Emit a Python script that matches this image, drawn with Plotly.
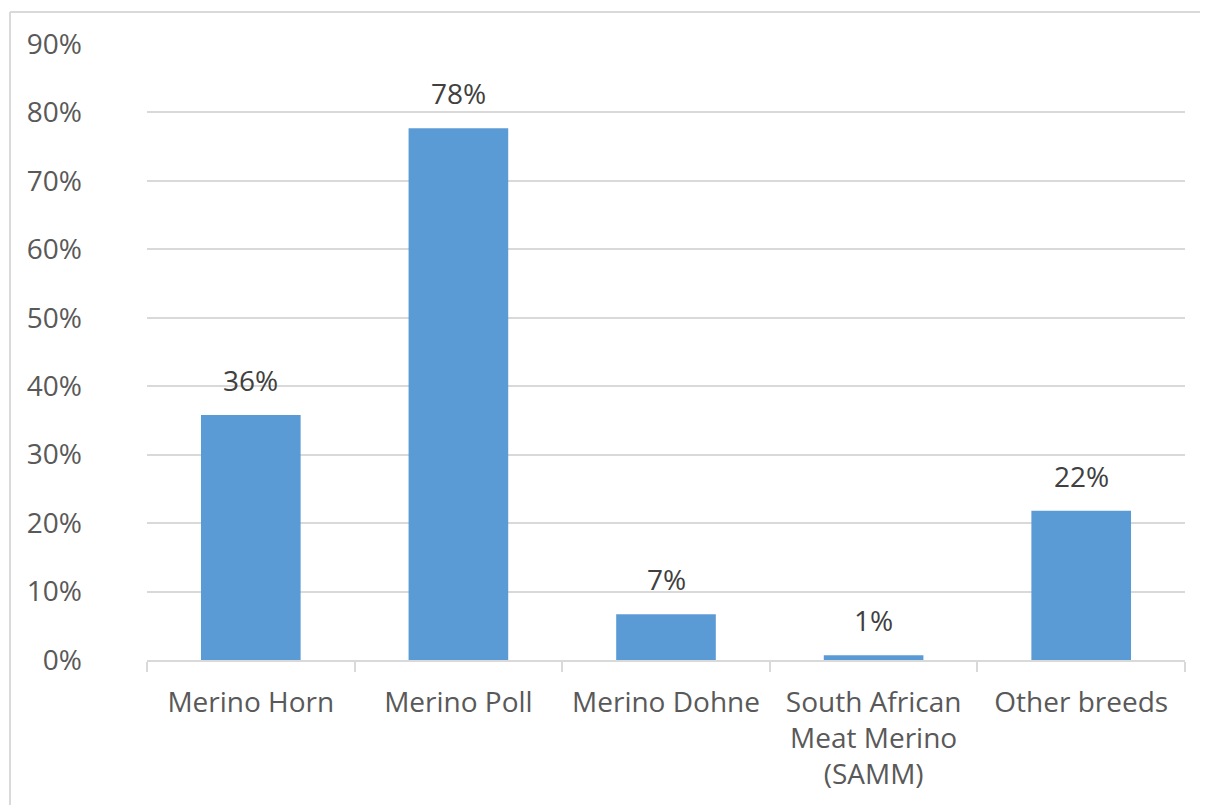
import plotly.graph_objects as go

categories = ["Merino Horn", "Merino Poll", "Merino Dohne",
              "South African<br>Meat Merino<br>(SAMM)", "Other breeds"]
values = [0.358, 0.777, 0.067, 0.007, 0.218]
labels = ["36%", "78%", "7%", "1%", "22%"]
tick_vals = [0, 0.1, 0.2, 0.3, 0.4, 0.5, 0.6, 0.7, 0.8, 0.9]
tick_text = ["0%", "10%", "20%", "30%", "40%", "50%", "60%", "70%", "80%", "90%"]

FONT = "Open Sans"
FS = 28
grid = "#d9d9d9"

fig = go.Figure(go.Bar(
    x=categories, y=values,
    marker=dict(color="#5b9bd5", line=dict(width=0)),
    width=0.48, cliponaxis=False,
))

for c, v, t in zip(categories, values, labels):
    fig.add_annotation(x=c, y=v, text=t, showarrow=False, yanchor="bottom",
                       yshift=14, font=dict(family=FONT, size=FS, color="#404040"))

# body has an 8px margin in the page; compensate
W, H = 1200, 797
L, R, T, B = 139, 23, 36, 145
PW, PH = W - L - R, H - T - B
bx = (2 - L) / PW
by = 1 + (T - 4) / PH
fig.update_layout(
    width=W, height=H,
    margin=dict(l=L, r=R, t=T, b=B),
    plot_bgcolor="white", paper_bgcolor="white",
    showlegend=False,
    font=dict(family=FONT, size=FS, color="#595959"),
    xaxis=dict(
        showline=True, linecolor=grid, linewidth=2, automargin=False,
        ticks="outside", tickson="boundaries", ticklen=10, tickcolor=grid, tickwidth=2,
        showgrid=False, ticklabelstandoff=16,
        tickfont=dict(family=FONT, size=FS, color="#595959"),
    ),
    yaxis=dict(
        range=[0, 0.9], tickvals=tick_vals, ticktext=tick_text, automargin=False,
        showgrid=True, gridcolor=grid, gridwidth=2, zeroline=False,
        showline=False, ticks="", ticklabelstandoff=64,
        tickfont=dict(family=FONT, size=FS, color="#595959"),
    ),
    shapes=[
        dict(type="line", xref="paper", yref="paper", x0=bx, x1=1.3, y0=by, y1=by,
             line=dict(color=grid, width=2), layer="below"),
        dict(type="line", xref="paper", yref="paper", x0=bx, x1=bx, y0=by, y1=-0.5,
             line=dict(color=grid, width=2), layer="below"),
    ],
)

fig.write_html("out.html")
